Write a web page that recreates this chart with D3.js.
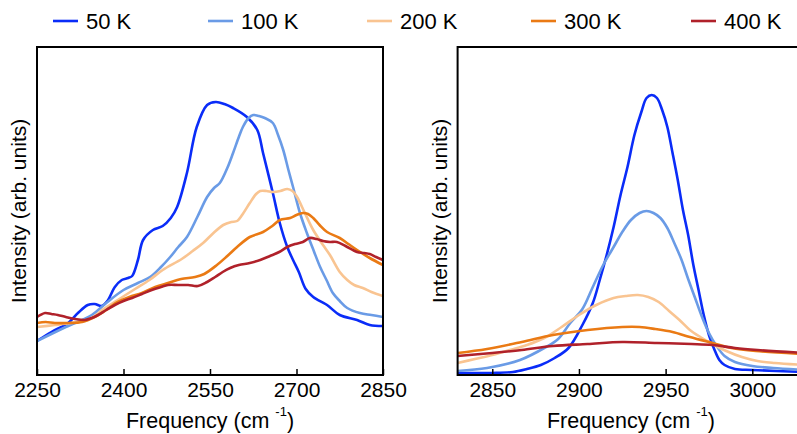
<!DOCTYPE html>
<html>
<head>
<meta charset="utf-8">
<script src="https://cdn.jsdelivr.net/npm/d3@7"></script>
<style>
  html, body { margin: 0; padding: 0; background: #fff; }
  svg { display: block; }
  text { font-family: "Liberation Sans", Arial, Helvetica, sans-serif; fill: #000; }
</style>
</head>
<body>
<svg id="chart" width="797" height="434"></svg>
<script>
// ---------------- DATA ----------------
const seriesNames = ["50 K", "100 K", "200 K", "300 K", "400 K"];
const seriesColors = ["#0a2cf8", "#6a9be6", "#f9c491", "#ea7a14", "#b0212a"];

const leftTicks = [2250, 2400, 2550, 2700, 2850];
const rightTicks = [2850, 2900, 2950, 3000];

// Left panel: frequency (cm^-1), intensity (arb. units)
const left50K = [[2250,34],[2275,43],[2304,52],[2321,62],[2338,70],[2350,71],[2362,69],[2372,74],[2385,88],[2397,95],[2408,97],[2415,99],[2425,115],[2434,135],[2451,145],[2468,149],[2482,157],[2493,168],[2510,202],[2527,248],[2545,270],[2560,273],[2575,271],[2590,267],[2614,258],[2632,245],[2642,222],[2659,182],[2671,152],[2684,128],[2694,115],[2704,103],[2716,86],[2729,78],[2753,70],[2775,60],[2805,55],[2827,50],[2850,49]];
const left100K = [[2250,34],[2300,48],[2345,60],[2370,72],[2400,85],[2425,92],[2446,98],[2465,108],[2481,118],[2495,128],[2510,138],[2528,158],[2545,178],[2557,187],[2567,192],[2580,207],[2590,222],[2600,238],[2607,248],[2617,257],[2625,260],[2635,259],[2645,257],[2659,252],[2668,240],[2677,225],[2686,205],[2694,188],[2706,162],[2718,142],[2730,124],[2741,108],[2752,95],[2763,82],[2775,74],[2788,67],[2810,62],[2830,60],[2850,58]];
const left200K = [[2250,48],[2281,50],[2310,52],[2333,54],[2350,59],[2363,65],[2390,75],[2420,86],[2445,95],[2468,105],[2501,116],[2520,124],[2538,132],[2556,142],[2573,150],[2587,153],[2597,154],[2608,162],[2619,172],[2630,181],[2637,184],[2648,184],[2659,183],[2672,184],[2684,186],[2693,184],[2701,178],[2712,165],[2729,145],[2746,130],[2758,120],[2775,103],[2788,95],[2800,90],[2815,87],[2830,83],[2850,79]];
const left300K = [[2250,52],[2265,53],[2281,52],[2305,52],[2328,53],[2350,58],[2370,65],[2390,73],[2410,78],[2432,82],[2455,88],[2477,92],[2500,96],[2524,98],[2540,101],[2562,110],[2580,119],[2597,128],[2619,138],[2642,143],[2658,149],[2671,155],[2689,157],[2700,160],[2711,162],[2720,161],[2729,157],[2740,150],[2753,143],[2775,137],[2790,131],[2805,125],[2827,117],[2850,110]];
const left400K = [[2250,58],[2264,62],[2275,61],[2286,60],[2300,58],[2316,56],[2333,55],[2345,57],[2356,60],[2370,65],[2385,70],[2400,74],[2415,77],[2432,81],[2449,85],[2465,88],[2477,90],[2495,90],[2512,90],[2529,89],[2545,93],[2559,98],[2572,103],[2585,107],[2600,110],[2619,112],[2637,115],[2654,119],[2670,123],[2684,128],[2698,131],[2711,133],[2723,137],[2735,136],[2746,134],[2758,133],[2770,133],[2785,129],[2805,123],[2817,122],[2827,121],[2838,118],[2850,115]];

// Right panel
const right50K = [[2830,2],[2850,2],[2862,3],[2870,6],[2878,10],[2886,17],[2894,27],[2902,50],[2908,72],[2912,95],[2916,120],[2920,148],[2924,180],[2928,208],[2932,240],[2936,263],[2939,277],[2942,280],[2945,277],[2948,265],[2951,248],[2954,222],[2957,195],[2960,165],[2963,140],[2966,110],[2969,85],[2972,60],[2975,40],[2978,26],[2981,15],[2984,10],[2990,6],[3000,5],[3030,3]];
const right100K = [[2830,4],[2847,7],[2866,15],[2881,28],[2888,36],[2895,52],[2902,66],[2908,88],[2914,110],[2920,128],[2925,143],[2930,155],[2935,162],[2939,164],[2943,162],[2947,157],[2951,147],[2955,132],[2959,116],[2963,96],[2967,77],[2971,58],[2975,42],[2979,30],[2984,19],[2990,13],[3000,9],[3012,7],[3030,5]];
const right200K = [[2830,12],[2840,16],[2850,20],[2860,25],[2870,30],[2880,37],[2890,48],[2900,60],[2910,70],[2920,77],[2927,79],[2934,80],[2940,78],[2946,73],[2952,64],[2958,55],[2964,45],[2970,38],[2977,31],[2985,24],[2994,18],[3003,14],[3013,12],[3030,10]];
const right300K = [[2830,22],[2847,26],[2867,33],[2885,40],[2905,45],[2925,48],[2935,48],[2944,46],[2954,43],[2964,38],[2977,32],[2988,27],[3002,24],[3030,21]];
const right400K = [[2830,19],[2850,22],[2867,25],[2885,29],[2905,31],[2925,33],[2945,32],[2965,31],[2977,30],[2990,27],[3003,25],[3030,22]];

const leftSeries = [left50K, left100K, left200K, left300K, left400K];
const rightSeries = [right50K, right100K, right200K, right300K, right400K];

// ---------------- DRAW ----------------
const svg = d3.select("#chart");
const plotTop = 47, plotBottom = 375;
const yMax = 328;

function panel(id, xDomain, xRange, ticks, series, labelX) {
  const x = d3.scaleLinear().domain(xDomain).range(xRange);
  const y = d3.scaleLinear().domain([0, yMax]).range([plotBottom, plotTop]);
  const g = svg.append("g");

  g.append("clipPath").attr("id", id)
    .append("rect").attr("x", xRange[0]).attr("y", plotTop)
    .attr("width", xRange[1] - xRange[0]).attr("height", plotBottom - plotTop);

  const line = d3.line().x(d => x(d[0])).y(d => y(d[1])).curve(d3.curveCatmullRom.alpha(0.5));
  const lines = g.append("g").attr("clip-path", `url(#${id})`);
  series.forEach((s, i) => {
    lines.append("path").datum(s)
      .attr("d", line)
      .attr("fill", "none")
      .attr("stroke", seriesColors[i])
      .attr("stroke-width", 2.6)
      .attr("stroke-linejoin", "round")
      .attr("stroke-linecap", "round");
  });

  // bottom axis (inward ticks)
  const ax = d3.axisBottom(x).tickValues(ticks).tickSize(-6).tickPadding(7).tickFormat(d3.format("d"));
  const axg = g.append("g").attr("transform", `translate(0,${plotBottom})`).call(ax);
  axg.select(".domain").remove();
  axg.selectAll(".tick line").attr("stroke", "#000").attr("stroke-width", 1.5);
  axg.selectAll(".tick text").attr("font-size", 21).attr("fill", "#000")
    .attr("font-family", '"Liberation Sans", Arial, sans-serif');

  // frame
  g.append("rect").attr("x", xRange[0]).attr("y", plotTop)
    .attr("width", xRange[1] - xRange[0]).attr("height", plotBottom - plotTop)
    .attr("fill", "none").attr("stroke", "#000").attr("stroke-width", 2);

  // x label
  const cx = (xRange[0] + xRange[1]) / 2;
  const t = g.append("text").attr("x", cx).attr("y", 428).attr("text-anchor", "middle").attr("font-size", 21.5);
  t.append("tspan").text("Frequency (cm ");
  t.append("tspan").attr("font-size", 13).attr("dy", -12).text("-1");
  t.append("tspan").attr("dy", 12).text(")");

  // y label
  g.append("text")
    .attr("transform", `translate(${labelX},${(plotTop + plotBottom) / 2}) rotate(-90)`)
    .attr("text-anchor", "middle").attr("font-size", 21)
    .text("Intensity (arb. units)");
}

panel("clipL", [2250, 2850], [37, 383], leftTicks, leftSeries, 26);
panel("clipR", [2830, 3030], [457.6, 804.3], rightTicks, rightSeries, 447);

// legend
const legendX = [53, 208, 367, 531, 691];
const lg = svg.append("g");
seriesNames.forEach((n, i) => {
  lg.append("line").attr("x1", legendX[i]).attr("x2", legendX[i] + 25)
    .attr("y1", 21).attr("y2", 21).attr("stroke", seriesColors[i]).attr("stroke-width", 2.6);
  lg.append("text").attr("x", legendX[i] + 33).attr("y", 29).attr("font-size", 22).text(n);
});
</script>
</body>
</html>
